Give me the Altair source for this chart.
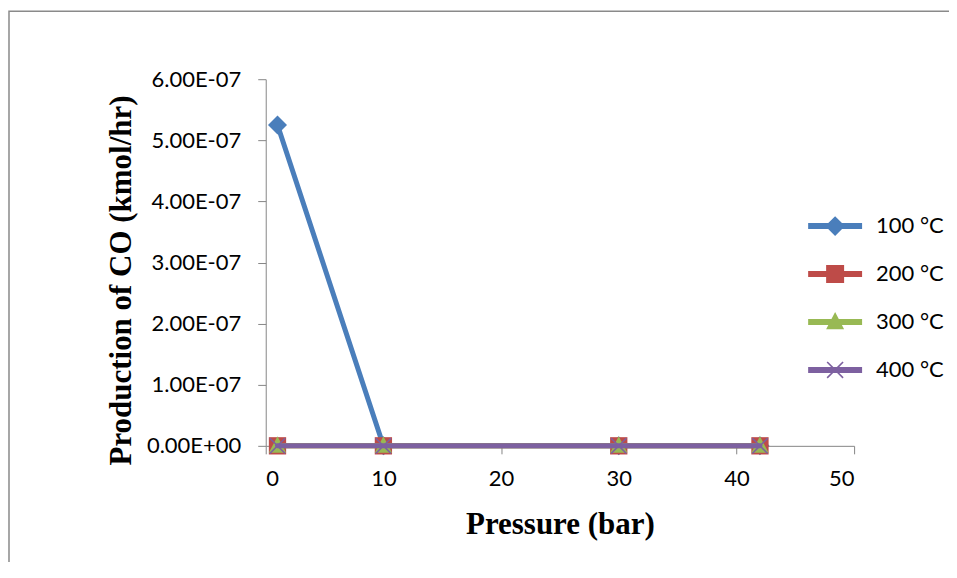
import math
import altair as alt
import pandas as pd

# ---------------- data ----------------
pressure = [1, 10, 30, 42]
series_names = ["100 °C", "200 °C", "300 °C", "400 °C"]
co_100 = [5.25e-7, 0.0, 0.0, 0.0]
co_200 = [0.0, 0.0, 0.0, 0.0]
co_300 = [0.0, 0.0, 0.0, 0.0]
co_400 = [0.0, 0.0, 0.0, 0.0]
colors = ["#4A7EBB", "#BE4B48", "#98B954", "#7D60A0"]
x_ticks = [0, 10, 20, 30, 40, 50]
y_ticks = [0, 1e-7, 2e-7, 3e-7, 4e-7, 5e-7, 6e-7]

rows = []
for name, vals in zip(series_names, [co_100, co_200, co_300, co_400]):
    for p, v in zip(pressure, vals):
        rows.append({"p": p, "co": v, "series": name})
df = pd.DataFrame(rows)


# ---------------- marker shapes ----------------
def x_path(a, t, dx=0.0):
    pts = [(-t, -a), (t, -a), (t, -t), (a, -t), (a, t), (t, t), (t, a), (-t, a),
           (-t, t), (-a, t), (-a, -t), (-t, -t)]
    r = []
    for x, y in pts:
        rx = (x - y) / math.sqrt(2)
        ry = (x + y) / math.sqrt(2)
        r.append((rx + dx, ry))
    return "M" + "L".join(f"{x:.3f},{y:.3f}" for x, y in r) + "Z"


plot_shapes = [
    "M0,-1.1L1.1,0L0,1.1L-1.1,0Z",
    "M-1,-1L1,-1L1,1L-1,1Z",
    "M0,-1.1L1,0.8L-1,0.8Z",
    x_path(1.25, 0.09),
]
bar = "M-4,-0.33L2,-0.33L2,0.33L-4,0.33Z"
legend_shapes = [
    bar + "M-1,-1.1L0.1,0L-1,1.1L-2.1,0Z",
    bar + "M-2,-1L0,-1L0,1L-2,1Z",
    bar + "M-1,-1.1L0,0.8L-2,0.8Z",
    bar + x_path(1.25, 0.09, -1.0),
]

color_scale = alt.Scale(domain=series_names, range=colors)
x_enc = alt.X(
    "p:Q",
    scale=alt.Scale(domain=[0, 50], nice=False),
    axis=alt.Axis(
        values=x_ticks,
        title="Pressure (bar)",
        titleY=88,
        titleBaseline="alphabetic",
    ),
)
y_enc = alt.Y(
    "co:Q",
    scale=alt.Scale(domain=[0, 6e-7], nice=False),
    axis=alt.Axis(
        values=y_ticks,
        labelExpr="datum.value == 0 ? '0.00E+00' : format(datum.value / 1e-7, '.2f') + 'E-07'",
        title="Production of CO (kmol/hr)",
        titleAngle=270,
        titleX=-135,
        titleY=201,
        titleAlign="center",
        titleBaseline="alphabetic",
    ),
)

layers = []
for i, name in enumerate(series_names):
    base = alt.Chart(df).transform_filter(alt.datum.series == name)
    line = base.mark_line(strokeWidth=5, strokeCap="round", strokeJoin="round").encode(
        x=x_enc, y=y_enc,
        color=alt.Color("series:N", scale=color_scale, legend=None),
    )
    pts = base.mark_point(filled=True, opacity=1, size=300).encode(
        x=x_enc, y=y_enc,
        color=alt.Color("series:N", scale=color_scale, legend=None),
        shape=alt.Shape("series:N", scale=alt.Scale(domain=series_names, range=plot_shapes), legend=None),
    )
    layers += [line, pts]

legend_layer = alt.Chart(df).transform_filter("datum.p < -1000").mark_point(
    filled=True, opacity=1
).encode(
    x=x_enc, y=y_enc,
    color=alt.Color("series:N", scale=color_scale,
                    legend=alt.Legend(title=None)),
    shape=alt.Shape("series:N", scale=alt.Scale(domain=series_names, range=legend_shapes),
                    legend=alt.Legend(title=None)),
)

frame = alt.Chart(pd.DataFrame({"a": [0]})).mark_rect(
    fill=None, stroke="#8A8A8A", strokeWidth=1.5
).encode(
    x=alt.value(-257), x2=alt.value(900), y=alt.value(-68), y2=alt.value(700)
)

chart = alt.layer(frame, *layers, legend_layer).resolve_scale(
    color="independent", shape="independent"
).properties(
    width=589,
    height=367,
    autosize=alt.AutoSizeParams(type="none"),
    padding={"left": 258, "top": 71, "right": 95, "bottom": 116},
).configure_view(
    stroke=None
).configure_axis(
    grid=False,
    domainColor="#868686",
    tickColor="#868686",
    tickSize=8,
    labelFont="Lato",
    labelFontSize=22,
    labelColor="#000000",
    titleFont="Liberation Serif",
    titleFontSize=31,
    titleFontWeight="bold",
    titleColor="#000000",
).configure_axisX(
    labelPadding=15,
).configure_axisY(
    labelPadding=17,
).configure_legend(
    orient="none",
    legendX=568,
    legendY=136,
    padding=0,
    symbolSize=324,
    symbolStrokeWidth=0,
    labelFont="Lato",
    labelFontSize=22,
    labelColor="#000000",
    labelOffset=21,
    rowPadding=26,
)

chart.save("out.html", embed_options={"renderer": "svg", "actions": False})
